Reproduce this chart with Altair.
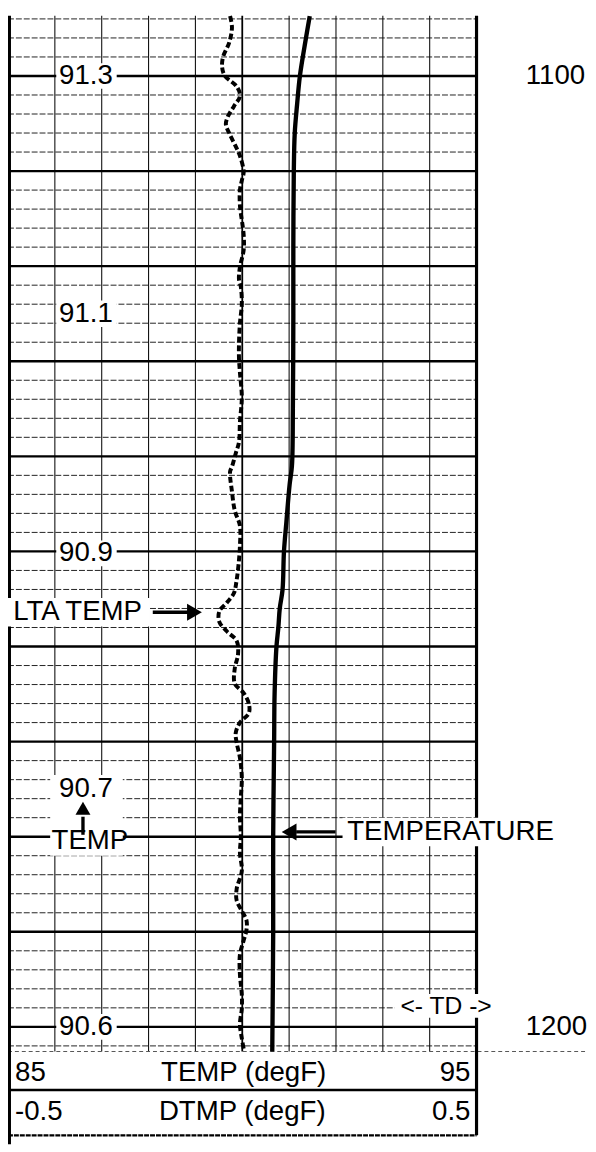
import altair as alt
import pandas as pd

# ---------------- data ----------------
# TEMPERATURE curve (degF) vs depth
temp_depth = [1093.7, 1096.0, 1100.0, 1103.0, 1106.0, 1110.0, 1118.0, 1125.0, 1135.0,
              1141.0, 1143.0, 1147.0, 1150.0, 1154.0, 1156.0, 1158.0, 1160.0, 1165.0,
              1170.0, 1180.0, 1190.0, 1202.6]
temp_vals = [91.44, 91.36, 91.23, 91.17, 91.12, 91.10, 91.09, 91.09, 91.08,
             91.06, 91.01, 90.94, 90.89, 90.86, 90.80, 90.77, 90.73, 90.69,
             90.68, 90.66, 90.66, 90.64]

# LTA TEMP curve (DTMP, degF) vs depth
lta_depth = [1093.7, 1094.9, 1096.5, 1098.0, 1099.1, 1100.0, 1101.1, 1102.1, 1103.2, 1104.3,
             1105.1, 1106.0, 1107.4, 1108.4, 1110.1, 1111.0, 1112.0, 1113.6, 1116.7, 1118.3,
             1120.1, 1121.4, 1122.2, 1124.0, 1126.0, 1128.1, 1129.7, 1131.2, 1133.8, 1136.4,
             1138.5, 1139.7, 1141.1, 1141.6, 1143.7, 1145.7, 1147.3, 1149.4, 1150.9, 1153.0,
             1154.4, 1155.4, 1156.3, 1157.4, 1158.4, 1159.4, 1160.8, 1162.3, 1163.9, 1164.9,
             1166.0, 1167.0, 1168.0, 1169.1, 1170.1, 1171.7, 1173.8, 1175.8, 1177.9, 1180.0,
             1181.7, 1183.6, 1185.5, 1186.7, 1187.8, 1188.8, 1189.8, 1190.9, 1192.4, 1194.5,
             1196.6, 1198.1, 1199.7, 1201.2, 1202.3]
lta_vals = [-0.026, -0.022, -0.028, -0.041, -0.043, -0.037, -0.012, -0.005, -0.018, -0.031,
            -0.035, -0.028, -0.014, -0.005, 0.003, -0.001, -0.005, -0.005, 0.003, 0.003,
            -0.005, -0.007, -0.003, -0.001, -0.005, -0.007, -0.007, -0.005, -0.001, -0.005,
            -0.007, -0.014, -0.022, -0.026, -0.022, -0.016, -0.005, -0.005, -0.007, -0.012,
            -0.018, -0.033, -0.049, -0.049, -0.033, -0.012, -0.009, -0.016, -0.016, 0.003,
            0.014, 0.014, -0.005, -0.014, -0.012, -0.005, -0.001, -0.003, -0.005, -0.003,
            -0.005, -0.001, -0.012, -0.012, -0.001, 0.009, 0.009, 0.003, -0.005, -0.005,
            -0.001, -0.001, -0.005, -0.001, 0.003]

track_labels = ["91.3", "91.1", "90.9", "90.7", "90.6"]
track_label_depth = [1100.0, 1125.0, 1150.2, 1175.0, 1200.0]

depth_labels = ["1100", "1200"]
depth_label_depth = [1100.0, 1200.0]

major_depths = [1100, 1110, 1120, 1130, 1140, 1150, 1160, 1170, 1180, 1190, 1200]
minor_depths = [d for d in range(1094, 1203, 2) if d % 10 != 0]
inner_temps = [86, 87, 88, 89, 91, 92, 93, 94]

# extents (depth units / degF)
TOP, BOT = 1093.67, 1212.34
GRID_BOT = 1202.59
BOX1 = 1206.64
BOX2 = 1211.41
RIGHT_EDGE = 97.38

FONT = "Liberation Sans"
FS = 28

X = alt.Scale(domain=[85, 95], range=[0, 475])
XD = alt.Scale(domain=[-0.5, 0.5], range=[0, 475])
Y = alt.Scale(domain=[TOP, BOT], range=[0, 1144])


def segs(rows, **kw):
    df = pd.DataFrame(rows, columns=["x1", "x2", "y1", "y2"])
    return alt.Chart(df).mark_rule(**kw).encode(
        x=alt.X("x1:Q", scale=X, axis=None),
        x2="x2:Q",
        y=alt.Y("y1:Q", scale=Y, axis=None),
        y2="y2:Q",
    )


def boxes(rows, **kw):
    df = pd.DataFrame(rows, columns=["x1", "x2", "y1", "y2"])
    return alt.Chart(df).mark_rect(**kw).encode(
        x=alt.X("x1:Q", scale=X, axis=None),
        x2="x2:Q",
        y=alt.Y("y1:Q", scale=Y, axis=None),
        y2="y2:Q",
    )


def texts(labels, xs, ys, align="left", size=FS):
    df = pd.DataFrame({"t": labels, "x": xs, "y": ys})
    return alt.Chart(df).mark_text(
        align=align, baseline="middle", font=FONT, fontSize=size, color="black"
    ).encode(
        x=alt.X("x:Q", scale=X, axis=None),
        y=alt.Y("y:Q", scale=Y, axis=None),
        text="t:N",
    )


def pts(xs, ys, shape, size):
    df = pd.DataFrame({"x": xs, "y": ys})
    return alt.Chart(df).mark_point(
        shape=shape, filled=True, size=size, color="black", opacity=1, strokeWidth=0
    ).encode(
        x=alt.X("x:Q", scale=X, axis=None),
        y=alt.Y("y:Q", scale=Y, axis=None),
    )


# ---------------- grid ----------------
minor = segs([(85, 95, d, d) for d in minor_depths], color="#222", strokeWidth=1, strokeDash=[6, 2])
inner = segs([(t, t, TOP, GRID_BOT) for t in inner_temps], color="#111", strokeWidth=1.1)
center = segs([(90, 90, TOP, GRID_BOT)], color="black", strokeWidth=1.8)
major = segs([(85, 95, d, d) for d in major_depths], color="black", strokeWidth=2.4)
bottom_line = segs([(85, RIGHT_EDGE, GRID_BOT, GRID_BOT)], color="#555", strokeWidth=1, strokeDash=[4, 3])
box_line1 = segs([(85, 95, BOX1, BOX1)], color="black", strokeWidth=2.5)
box_line2 = segs([(85, 95, BOX2, BOX2)], color="black", strokeWidth=2.5, strokeDash=[5, 1])
left_border = segs([(85.03, 85.03, TOP, BOT)], color="black", strokeWidth=3.2)
right_border = segs([(95, 95, TOP, BOX2)], color="black", strokeWidth=3.2)

# ---------------- white backgrounds behind annotations ----------------
whites = boxes([
    (86.03, 87.32, 1098.65, 1101.35),  # 91.3
    (86.03, 87.32, 1123.6, 1126.4),    # 91.1
    (86.03, 87.32, 1148.85, 1151.55),  # 90.9
    (85.9, 87.45, 1173.5, 1182.0),     # 90.7 / arrow / TEMP
    (86.03, 87.32, 1198.65, 1201.35),  # 90.6
    (84.9, 88.03, 1154.9, 1157.9),     # LTA TEMP
    (92.14, 96.79, 1178.0, 1181.0),    # TEMPERATURE
    (93.25, 95.44, 1196.55, 1199.05),  # <- TD ->
], color="white", opacity=1)

# ---------------- annotations ----------------
track_text = texts(track_labels, [86.09] * len(track_labels), track_label_depth)
temp_word = texts(["TEMP"], [85.93], [1180.5])
depth_text = texts(depth_labels, [96.05] * 2, depth_label_depth)
lta_text = texts(["LTA TEMP"], [85.11], [1156.4])
temperature_text = texts(["TEMPERATURE"], [92.24], [1179.5])
td_text = texts(["<- TD ->"], [94.35], [1197.8], align="center", size=25)

box_left = texts(["85", "-0.5"], [85.15, 85.15], [1204.9, 1209.0])
box_mid = texts(["TEMP (degF)", "DTMP (degF)"], [90.03, 90.0], [1204.9, 1209.0], align="center")
box_right = texts(["95", "0.5"], [94.87, 94.87], [1204.9, 1209.0], align="right")

# arrows
arrow_shafts = segs([
    (88.09, 88.85, 1156.4, 1156.4),    # LTA TEMP arrow shaft
    (91.15, 91.99, 1179.5, 1179.5),    # TEMPERATURE arrow shaft
    (86.6, 86.6, 1177.9, 1179.8),      # TEMP up arrow stem
], color="black", strokeWidth=3.4)
head_right = pts([88.98], [1156.4], "triangle-right", 300)
head_left = pts([91.0], [1179.5], "triangle-left", 300)
head_up = pts([86.6], [1177.0], "triangle-up", 230)

# ---------------- curves ----------------
temp_df = pd.DataFrame({"depth": temp_depth, "temp": temp_vals})
lta_df = pd.DataFrame({"depth": lta_depth, "dtmp": lta_vals})

temp_line = alt.Chart(temp_df).mark_line(
    color="black", strokeWidth=4.4, interpolate="catmull-rom"
).encode(
    x=alt.X("temp:Q", scale=X, axis=None),
    y=alt.Y("depth:Q", scale=Y, axis=None),
    order="depth:Q",
)

lta_line = alt.Chart(lta_df).mark_line(
    color="black", strokeWidth=4, strokeDash=[6, 3], interpolate="catmull-rom"
).encode(
    x=alt.X("dtmp:Q", scale=XD, axis=None),
    y=alt.Y("depth:Q", scale=Y, axis=None),
    order="depth:Q",
)

chart = alt.layer(
    minor, inner, center, major, bottom_line, box_line1, box_line2,
    left_border, right_border,
    whites,
    track_text, temp_word, depth_text, lta_text, temperature_text, td_text,
    box_left, box_mid, box_right,
    arrow_shafts, head_right, head_left, head_up,
    temp_line, lta_line,
).resolve_scale(
    x="independent"
).properties(
    width=588,
    height=1144,
    padding=0,
    autosize=alt.AutoSizeParams(type="none"),
).configure_view(stroke=None)

chart.save("out.html", embed_options={"renderer": "svg", "actions": False})
